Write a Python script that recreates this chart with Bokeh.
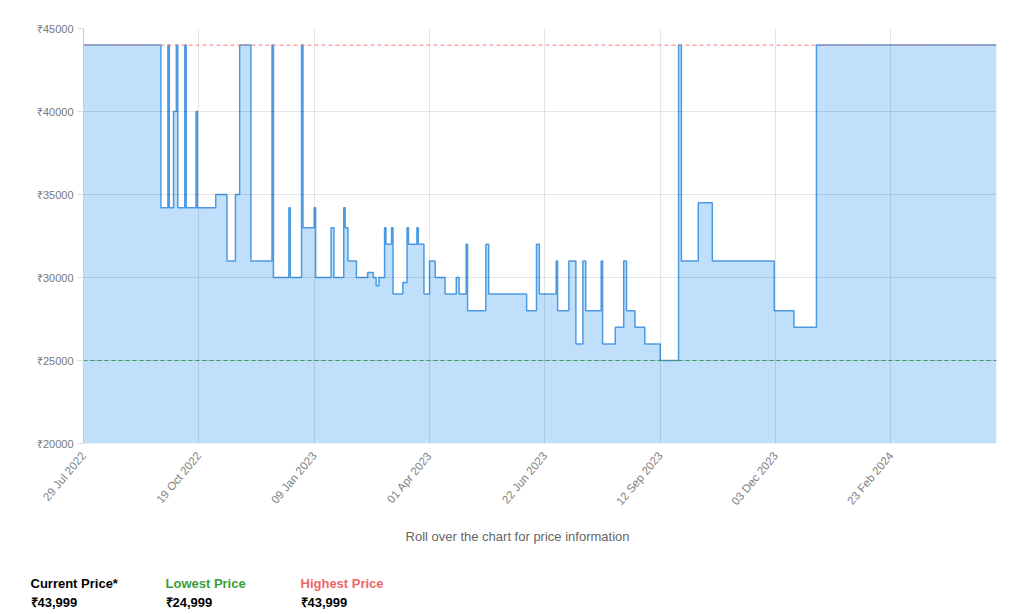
import math
import pandas as pd
from bokeh.plotting import figure
from bokeh.layouts import column
from bokeh.models import (Span, FixedTicker, DatetimeTickFormatter,
                          PrintfTickFormatter, Range1d, ColumnDataSource)
from bokeh.core.properties import value
from bokeh.embed import file_html
from bokeh.resources import INLINE

# ---- data ----
change_dates = [
    "2022-07-29", "2022-09-22", "2022-09-27", "2022-09-28", "2022-10-01", "2022-10-03",
    "2022-10-04", "2022-10-09", "2022-10-10", "2022-10-17", "2022-10-18", "2022-10-31",
    "2022-11-08", "2022-11-14", "2022-11-17", "2022-11-25", "2022-12-10", "2022-12-11",
    "2022-12-22", "2022-12-23", "2022-12-31", "2023-01-01", "2023-01-09", "2023-01-10",
    "2023-01-21", "2023-01-23", "2023-01-30", "2023-01-31", "2023-02-02", "2023-02-08",
    "2023-02-16", "2023-02-20", "2023-02-22", "2023-02-24", "2023-02-28", "2023-03-01",
    "2023-03-05", "2023-03-06", "2023-03-13", "2023-03-16", "2023-03-17", "2023-03-23",
    "2023-03-24", "2023-03-28", "2023-04-01", "2023-04-05", "2023-04-12", "2023-04-20",
    "2023-04-22", "2023-04-27", "2023-04-28", "2023-05-11", "2023-05-13", "2023-06-09",
    "2023-06-16", "2023-06-18", "2023-06-30", "2023-07-01", "2023-07-09", "2023-07-14",
    "2023-07-19", "2023-07-21", "2023-08-01", "2023-08-02", "2023-08-11", "2023-08-17",
    "2023-08-19", "2023-08-25", "2023-09-01", "2023-09-12", "2023-09-25", "2023-09-27",
    "2023-10-09", "2023-10-19", "2023-12-02", "2023-12-16", "2024-01-01", "2024-05-08",
]
prices = [
    43999, 34199, 43999, 34199, 39999, 43999,
    34199, 43999, 34199, 39999, 34199, 34999,
    30999, 34999, 43999, 30999, 43999, 29999,
    34199, 29999, 43999, 32999, 34199, 29999,
    32999, 29999, 34199, 32999, 30999, 29999,
    30299, 29999, 29499, 29999, 32999, 31999,
    32999, 28999, 29699, 32999, 31999, 32999,
    31999, 28999, 30999, 29999, 28999, 29999,
    28999, 31999, 27999, 31999, 28999, 27999,
    31999, 28999, 30999, 27999, 30999, 25999,
    30999, 27999, 30999, 25999, 26999, 30999,
    27999, 26999, 25999, 24999, 43999, 30999,
    34499, 30999, 27999, 26999, 43999, 43999,
]
tick_dates = ["2022-07-29", "2022-10-19", "2023-01-09", "2023-04-01",
              "2023-06-22", "2023-09-12", "2023-12-03", "2024-02-23"]
y_ticks = [20000, 25000, 30000, 35000, 40000, 45000]
highest_price = 43999
lowest_price = 24999
current_price = 43999
summary_titles = ["Current Price*", "Lowest Price", "Highest Price"]
summary_values = [current_price, lowest_price, highest_price]
note_text = "Roll over the chart for price information"

xs = pd.to_datetime(change_dates)

MAIN_H = 525
p = figure(width=1024, height=MAIN_H, x_axis_type="datetime",
           output_backend="svg", toolbar_location=None,
           min_border_left=83, min_border_right=28, min_border_top=28,
           min_border_bottom=MAIN_H - 443)
p.x_range = Range1d(xs[0], xs[-1])
p.y_range = Range1d(20000, 45000)
p.outline_line_color = None
p.background_fill_color = "white"

p.varea_step(x=xs, y1=20000, y2=prices, step_mode="after",
             fill_color="#bfdffb", fill_alpha=1.0)

p.add_layout(Span(location=highest_price, dimension="width", line_color="#ef7f7f",
                  line_dash="4 3", line_width=1, level="glyph"))
p.add_layout(Span(location=lowest_price, dimension="width", line_color="#3f9a55",
                  line_dash="4 3", line_width=1, level="glyph"))

p.step(x=xs, y=prices, mode="after", line_color="#4c9be2", line_width=1.5)

# axes
p.xaxis.ticker = FixedTicker(ticks=[pd.Timestamp(d).value / 1e6 for d in tick_dates])
fmt = "%d %b %Y"
p.xaxis.formatter = DatetimeTickFormatter(
    milliseconds=fmt, seconds=fmt, minsec=fmt, minutes=fmt, hourmin=fmt,
    hours=fmt, days=fmt, months=fmt, years=fmt)
p.xaxis.major_label_orientation = math.radians(50)
p.xaxis.axis_line_color = None
p.xaxis.major_tick_line_color = None
p.xaxis.minor_tick_line_color = None
p.xaxis.major_label_text_font = "Liberation Sans"
p.xaxis.major_label_text_font_size = "11.5px"
p.xaxis.major_label_text_color = "#808080"
p.xaxis.major_label_standoff = 4

p.yaxis.ticker = FixedTicker(ticks=y_ticks)
p.yaxis.formatter = PrintfTickFormatter(format="₹%d")
p.yaxis.axis_line_color = "#cccccc"
p.yaxis.major_tick_line_color = "#dddddd"
p.yaxis.major_tick_out = 6
p.yaxis.major_tick_in = 0
p.yaxis.minor_tick_line_color = None
p.yaxis.major_label_text_font = "Liberation Sans"
p.yaxis.major_label_text_font_size = "11px"
p.yaxis.major_label_text_color = "#777777"
p.yaxis.major_label_standoff = 4

p.xgrid.grid_line_color = "#000000"
p.xgrid.grid_line_alpha = 0.1
p.ygrid.grid_line_color = "#000000"
p.ygrid.grid_line_alpha = 0.1
p.xgrid.level = "glyph"
p.ygrid.level = "glyph"

# ---- text panel below the chart (pixel-like coordinates, y grows downward) ----
INFO_H = 614 - MAIN_H
q = figure(width=1024, height=INFO_H, output_backend="svg", toolbar_location=None,
           x_range=Range1d(0, 1024), y_range=Range1d(INFO_H, 0),
           min_border=0, min_border_left=0, min_border_right=0,
           min_border_top=0, min_border_bottom=0)
q.axis.visible = False
q.grid.visible = False
q.outline_line_color = None
try:
    p.frame_align = False
    q.frame_align = False
except Exception:
    pass

q.text(x=[517], y=[536 - MAIN_H], text=[note_text],
       text_font=value("Liberation Sans"), text_font_size="13px",
       text_color="#666666", text_align="center", text_baseline="middle")

title_src = ColumnDataSource(dict(
    x=[30, 165, 300], y=[583 - MAIN_H] * 3, text=summary_titles,
    color=["#000000", "#3a9e3a", "#ee6666"]))
q.text(x="x", y="y", text="text", text_color="color", source=title_src,
       text_font=value("Liberation Sans"), text_font_size="13px",
       text_font_style="bold", text_align="left", text_baseline="middle")

value_src = ColumnDataSource(dict(
    x=[30, 165, 300], y=[602 - MAIN_H] * 3,
    text=["₹{:,}".format(v) for v in summary_values]))
q.text(x="x", y="y", text="text", source=value_src, text_color="#000000",
       text_font=value("Liberation Sans"), text_font_size="13px",
       text_font_style="bold", text_align="left", text_baseline="middle")

layout = column(p, q, spacing=0)
open("out.html", "w").write(file_html(layout, INLINE))
